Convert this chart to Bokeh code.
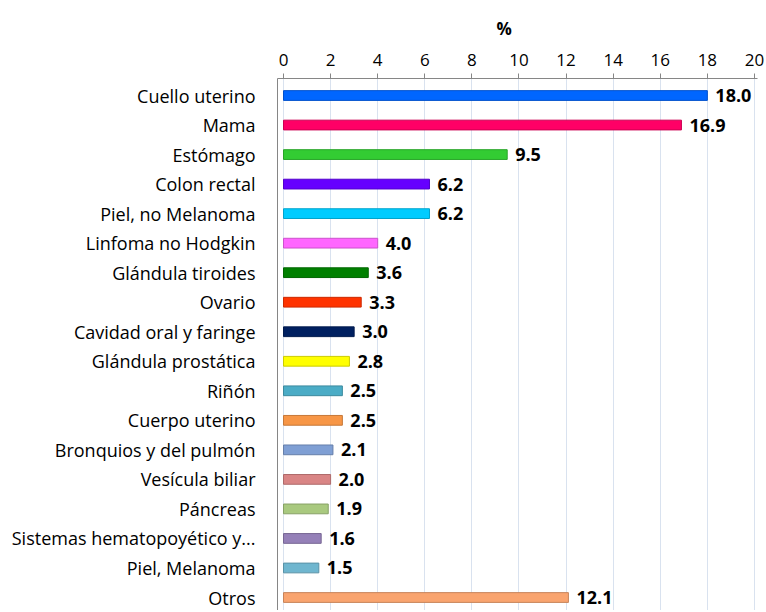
from bokeh.plotting import figure
from bokeh.models import Range1d, FixedTicker, ColumnDataSource, Title
from bokeh.core.properties import value
from bokeh.embed import file_html
from bokeh.resources import INLINE

categories = ["Cuello uterino", "Mama", "Estómago", "Colon rectal", "Piel, no Melanoma",
              "Linfoma no Hodgkin", "Glándula tiroides", "Ovario", "Cavidad oral y faringe",
              "Glándula prostática", "Riñón", "Cuerpo uterino", "Bronquios y del pulmón",
              "Vesícula biliar", "Páncreas", "Sistemas hematopoyético y...", "Piel, Melanoma", "Otros"]
values = [18.0, 16.9, 9.5, 6.2, 6.2, 4.0, 3.6, 3.3, 3.0, 2.8, 2.5, 2.5, 2.1, 2.0, 1.9, 1.6, 1.5, 12.1]
colors = ["#0066ff", "#ff0066", "#33cc33", "#6600ff", "#00ccff", "#ff66ff", "#008000", "#ff3300",
          "#002060", "#ffff00", "#4bacc6", "#f79646", "#7f9fd4", "#d98585", "#a9c97f", "#9580b8",
          "#6fb6cf", "#f9a46f"]
edge_colors = ["#0050cc", "#cc0052", "#28a428", "#5200cc", "#00a3cc", "#cc52cc", "#006600", "#cc2900",
               "#001a4d", "#cccc00", "#3c8a9e", "#c67838", "#667faa", "#ae6a6a", "#87a166", "#776693",
               "#5992a6", "#c78359"]
x_ticks = [0, 2, 4, 6, 8, 10, 12, 14, 16, 18, 20]
title_text = "%"

pos = list(range(len(categories)))
labels = ["%.1f" % v for v in values]
src = ColumnDataSource(dict(y=pos, v=values, c=colors, ec=edge_colors, lab=labels))

p = figure(width=764, height=610, output_backend="svg", toolbar_location=None,
           x_range=Range1d(-0.255, 20.13), y_range=Range1d(17.44, -0.576),
           x_axis_location="above", min_border_left=277, min_border_right=7,
           min_border_top=78, min_border_bottom=0)
p.background_fill_color = "white"
p.border_fill_color = "white"
p.outline_line_color = None

p.hbar(y="y", left=0, right="v", height=0.33, fill_color="c", line_color="ec", line_width=1, source=src)
p.text(x="v", y="y", text="lab", x_offset=8, text_baseline="middle", text_align="left",
       text_font=value("Open Sans"), text_font_style="bold", text_font_size="18px",
       text_color="#000000", source=src)

xa = p.xaxis[0]
xa.ticker = FixedTicker(ticks=x_ticks)
xa.minor_tick_line_color = None
xa.major_tick_in = 0
xa.major_tick_out = 5
xa.major_tick_line_color = "#868686"
xa.axis_line_color = "#868686"
xa.major_label_text_font = "Open Sans"
xa.major_label_text_font_size = "17px"
xa.major_label_text_color = "#000000"
xa.major_label_standoff = 8

ya = p.yaxis[0]
ya.ticker = FixedTicker(ticks=pos)
ya.major_label_overrides = {i: c for i, c in enumerate(categories)}
ya.major_tick_in = 0
ya.major_tick_out = 0
ya.minor_tick_line_color = None
ya.axis_line_color = "#868686"
ya.major_label_text_font = "Open Sans"
ya.major_label_text_font_size = "18px"
ya.major_label_text_color = "#000000"
ya.major_label_standoff = 22

p.xgrid.ticker = FixedTicker(ticks=x_ticks)
p.xgrid.grid_line_color = "#d9e2ef"
p.ygrid.grid_line_color = None

p.add_layout(Title(text=title_text, align="left", offset=219, text_font="Open Sans",
                   text_font_size="17px", text_font_style="bold", text_color="#000000",
                   standoff=22), "above")

open("out.html", "w").write(file_html(p, INLINE))
